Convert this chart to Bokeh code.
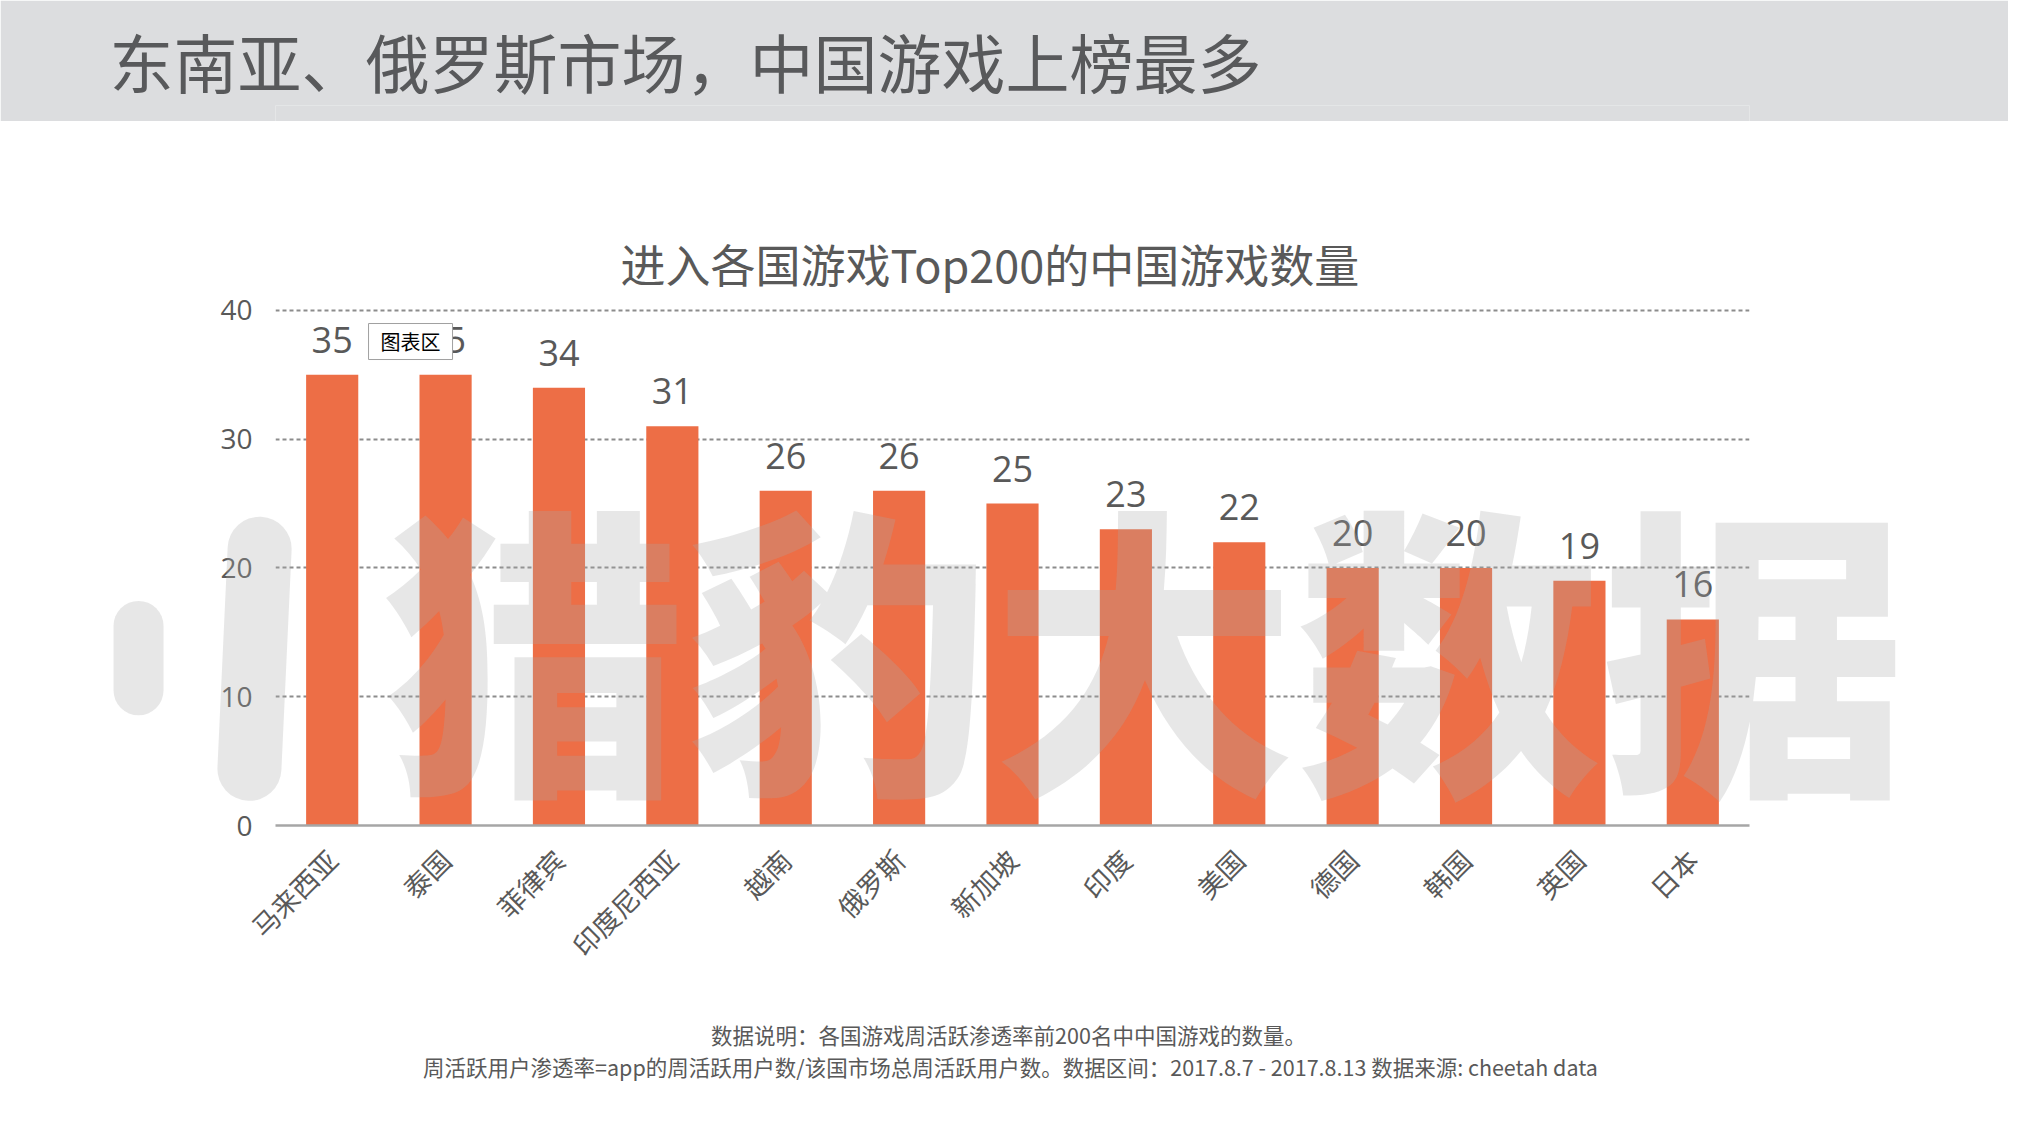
import math
from bokeh.plotting import figure
from bokeh.models import ColumnDataSource, FixedTicker, Range1d, FactorRange
from bokeh.layouts import column
from bokeh.transform import dodge
from bokeh.core.properties import value
from bokeh.embed import file_html
from bokeh.resources import INLINE

# ---- data ----
countries = ["马来西亚", "泰国", "菲律宾", "印度尼西亚", "越南", "俄罗斯", "新加坡",
             "印度", "美国", "德国", "韩国", "英国", "日本"]
counts = [35, 35, 34, 31, 26, 26, 25, 23, 22, 20, 20, 19, 16]
y_ticks = [0, 10, 20, 30, 40]

header_title = "东南亚、俄罗斯市场，中国游戏上榜最多"
chart_title = "进入各国游戏Top200的中国游戏数量"
note_1 = "数据说明：各国游戏周活跃渗透率前200名中中国游戏的数量。"
note_2 = ("周活跃用户渗透率=app的周活跃用户数/该国市场总周活跃用户数。"
          "数据区间：2017.8.7 - 2017.8.13 数据来源: cheetah data")
watermark = "猎豹大数据"
tooltip_text = "图表区"

CJK = "Noto Sans CJK SC"
CJK_HEAVY = "Noto Sans CJK SC Black, Noto Sans CJK SC"
NUM = "Open Sans"
TXT = "#595959"
HDR_BG = "#DCDDDF"
WM_COLOR, WM_ALPHA = "#AAAAAA", 0.28
W = 2008
ML, MR = 275, 259          # frame left / right border (page px)
HDR_H, CH_H, FT_H = 121, 879, 116


def band(height, bg=None, **kw):
    f = figure(width=W, height=height, x_range=Range1d(ML, W - MR),
               y_range=Range1d(0, height), x_axis_type=None, y_axis_type=None,
               output_backend="svg", toolbar_location=None,
               min_border_left=ML, min_border_right=MR,
               outline_line_color=None, background_fill_color=bg,
               border_fill_color=bg if bg else "white", **kw)
    return f


# ---- header band (title in the plot's title panel) ----
hdr = band(HDR_H, bg=HDR_BG, min_border_top=105, min_border_bottom=0)
hdr.title.text = header_title
hdr.title.text_font = CJK
hdr.title.text_font_size = "64px"
hdr.title.text_font_style = "normal"
hdr.title.text_color = "#58595B"
hdr.title.align = "left"
hdr.title.offset = 109 - ML
hdr.title.standoff = 0
hdr.title.vertical_align = "bottom"

# ---- chart ----
src = ColumnDataSource(dict(country=countries, count=counts,
                            label=[str(v) for v in counts]))

p = figure(width=W, height=CH_H, x_range=FactorRange(*countries),
           y_range=Range1d(0, 40.388), output_backend="svg", toolbar_location=None,
           min_border_left=ML, min_border_right=MR, min_border_top=184,
           min_border_bottom=175, outline_line_color=None,
           background_fill_color="white", border_fill_color="white")

p.title.text = chart_title
p.title.text_font = CJK
p.title.text_font_size = "45px"
p.title.text_font_style = "normal"
p.title.text_color = TXT
p.title.align = "left"
p.title.offset = 620 - ML
p.title.standoff = 20
p.title.vertical_align = "bottom"

p.vbar(x="country", top="count", width=0.46, source=src,
       fill_color="#ED6E46", line_color=None)

p.xgrid.grid_line_color = None
p.ygrid.grid_line_color = "#8C8C8C"
p.ygrid.grid_line_dash = "4 3"
p.ygrid.grid_line_width = 2

xa = p.xaxis[0]
xa.major_label_orientation = math.pi / 4
xa.axis_line_color = "#A6A6A6"
xa.axis_line_width = 2.5
xa.major_tick_line_color = None
xa.minor_tick_line_color = None
xa.major_label_text_font = CJK
xa.major_label_text_font_size = "27px"
xa.major_label_text_color = TXT
xa.major_label_standoff = 23

ya = p.yaxis[0]
ya.ticker = FixedTicker(ticks=y_ticks)
ya.axis_line_color = None
ya.major_tick_line_color = None
ya.minor_tick_line_color = None
ya.major_label_text_font = NUM
ya.major_label_text_font_size = "28px"
ya.major_label_text_color = TXT
ya.major_label_standoff = 17

# value labels above the bars
p.text(x="country", y=dodge("count", 2.72), text="label", source=src,
       text_align="center", text_baseline="alphabetic",
       text_font=value(NUM), text_font_size=value("36px"), text_color=TXT)

# hover tooltip box seen in the reference
tip = ColumnDataSource(dict(c=["泰国"], y=[37.59], t=[tooltip_text]))
p.rect(x=dodge("c", -0.309, range=p.x_range), y="y", width=84, height=36,
       width_units="screen", height_units="screen", source=tip,
       fill_color="#FFFFFF", line_color="#A0A0A0", line_width=1)
p.text(x=dodge("c", -0.309, range=p.x_range), y="y", text="t", source=tip,
       text_font=value(CJK), text_font_size=value("20px"), text_color="#000000",
       text_align="center", text_baseline="middle")

# watermark (logo strokes + text) over the bars, semi-transparent, drawn last
logo_l = ColumnDataSource(dict(c=["马来西亚"], y0=[15.5], y1=[10.5]))
p.segment(x0=dodge("c", -1.708, range=p.x_range), y0="y0",
          x1=dodge("c", -1.708, range=p.x_range), y1="y1", source=logo_l,
          line_width=50, line_cap="round", line_color=WM_COLOR, line_alpha=WM_ALPHA,
          level="overlay")
logo_r = ColumnDataSource(dict(c=["马来西亚"], y0=[21.5], y1=[4.4]))
p.segment(x0=dodge("c", -0.64, range=p.x_range), y0="y0",
          x1=dodge("c", -0.73, range=p.x_range), y1="y1", source=logo_r,
          line_width=64, line_cap="round", line_color=WM_COLOR, line_alpha=WM_ALPHA,
          level="overlay")

wm = ColumnDataSource(dict(c=["印度"], y=[14.5], t=[watermark]))
p.text(x=dodge("c", 0.16, range=p.x_range), y="y", text="t", source=wm,
       text_font=value(CJK_HEAVY), text_font_size=value("305px"),
       text_color=WM_COLOR, text_alpha=WM_ALPHA,
       text_align="center", text_baseline="middle", level="overlay")

# ---- footnotes ----
ft = band(FT_H, min_border_top=0, min_border_bottom=0)
ft.text(x=[1008, 1010], y=[82, 50], text=[note_1, note_2], text_font=value(CJK),
        text_font_size=value("21.5px"), text_color=TXT,
        text_align="center", text_baseline="middle")

layout = column(hdr, p, ft, spacing=0)
open("out.html", "w").write(file_html(layout, INLINE))
